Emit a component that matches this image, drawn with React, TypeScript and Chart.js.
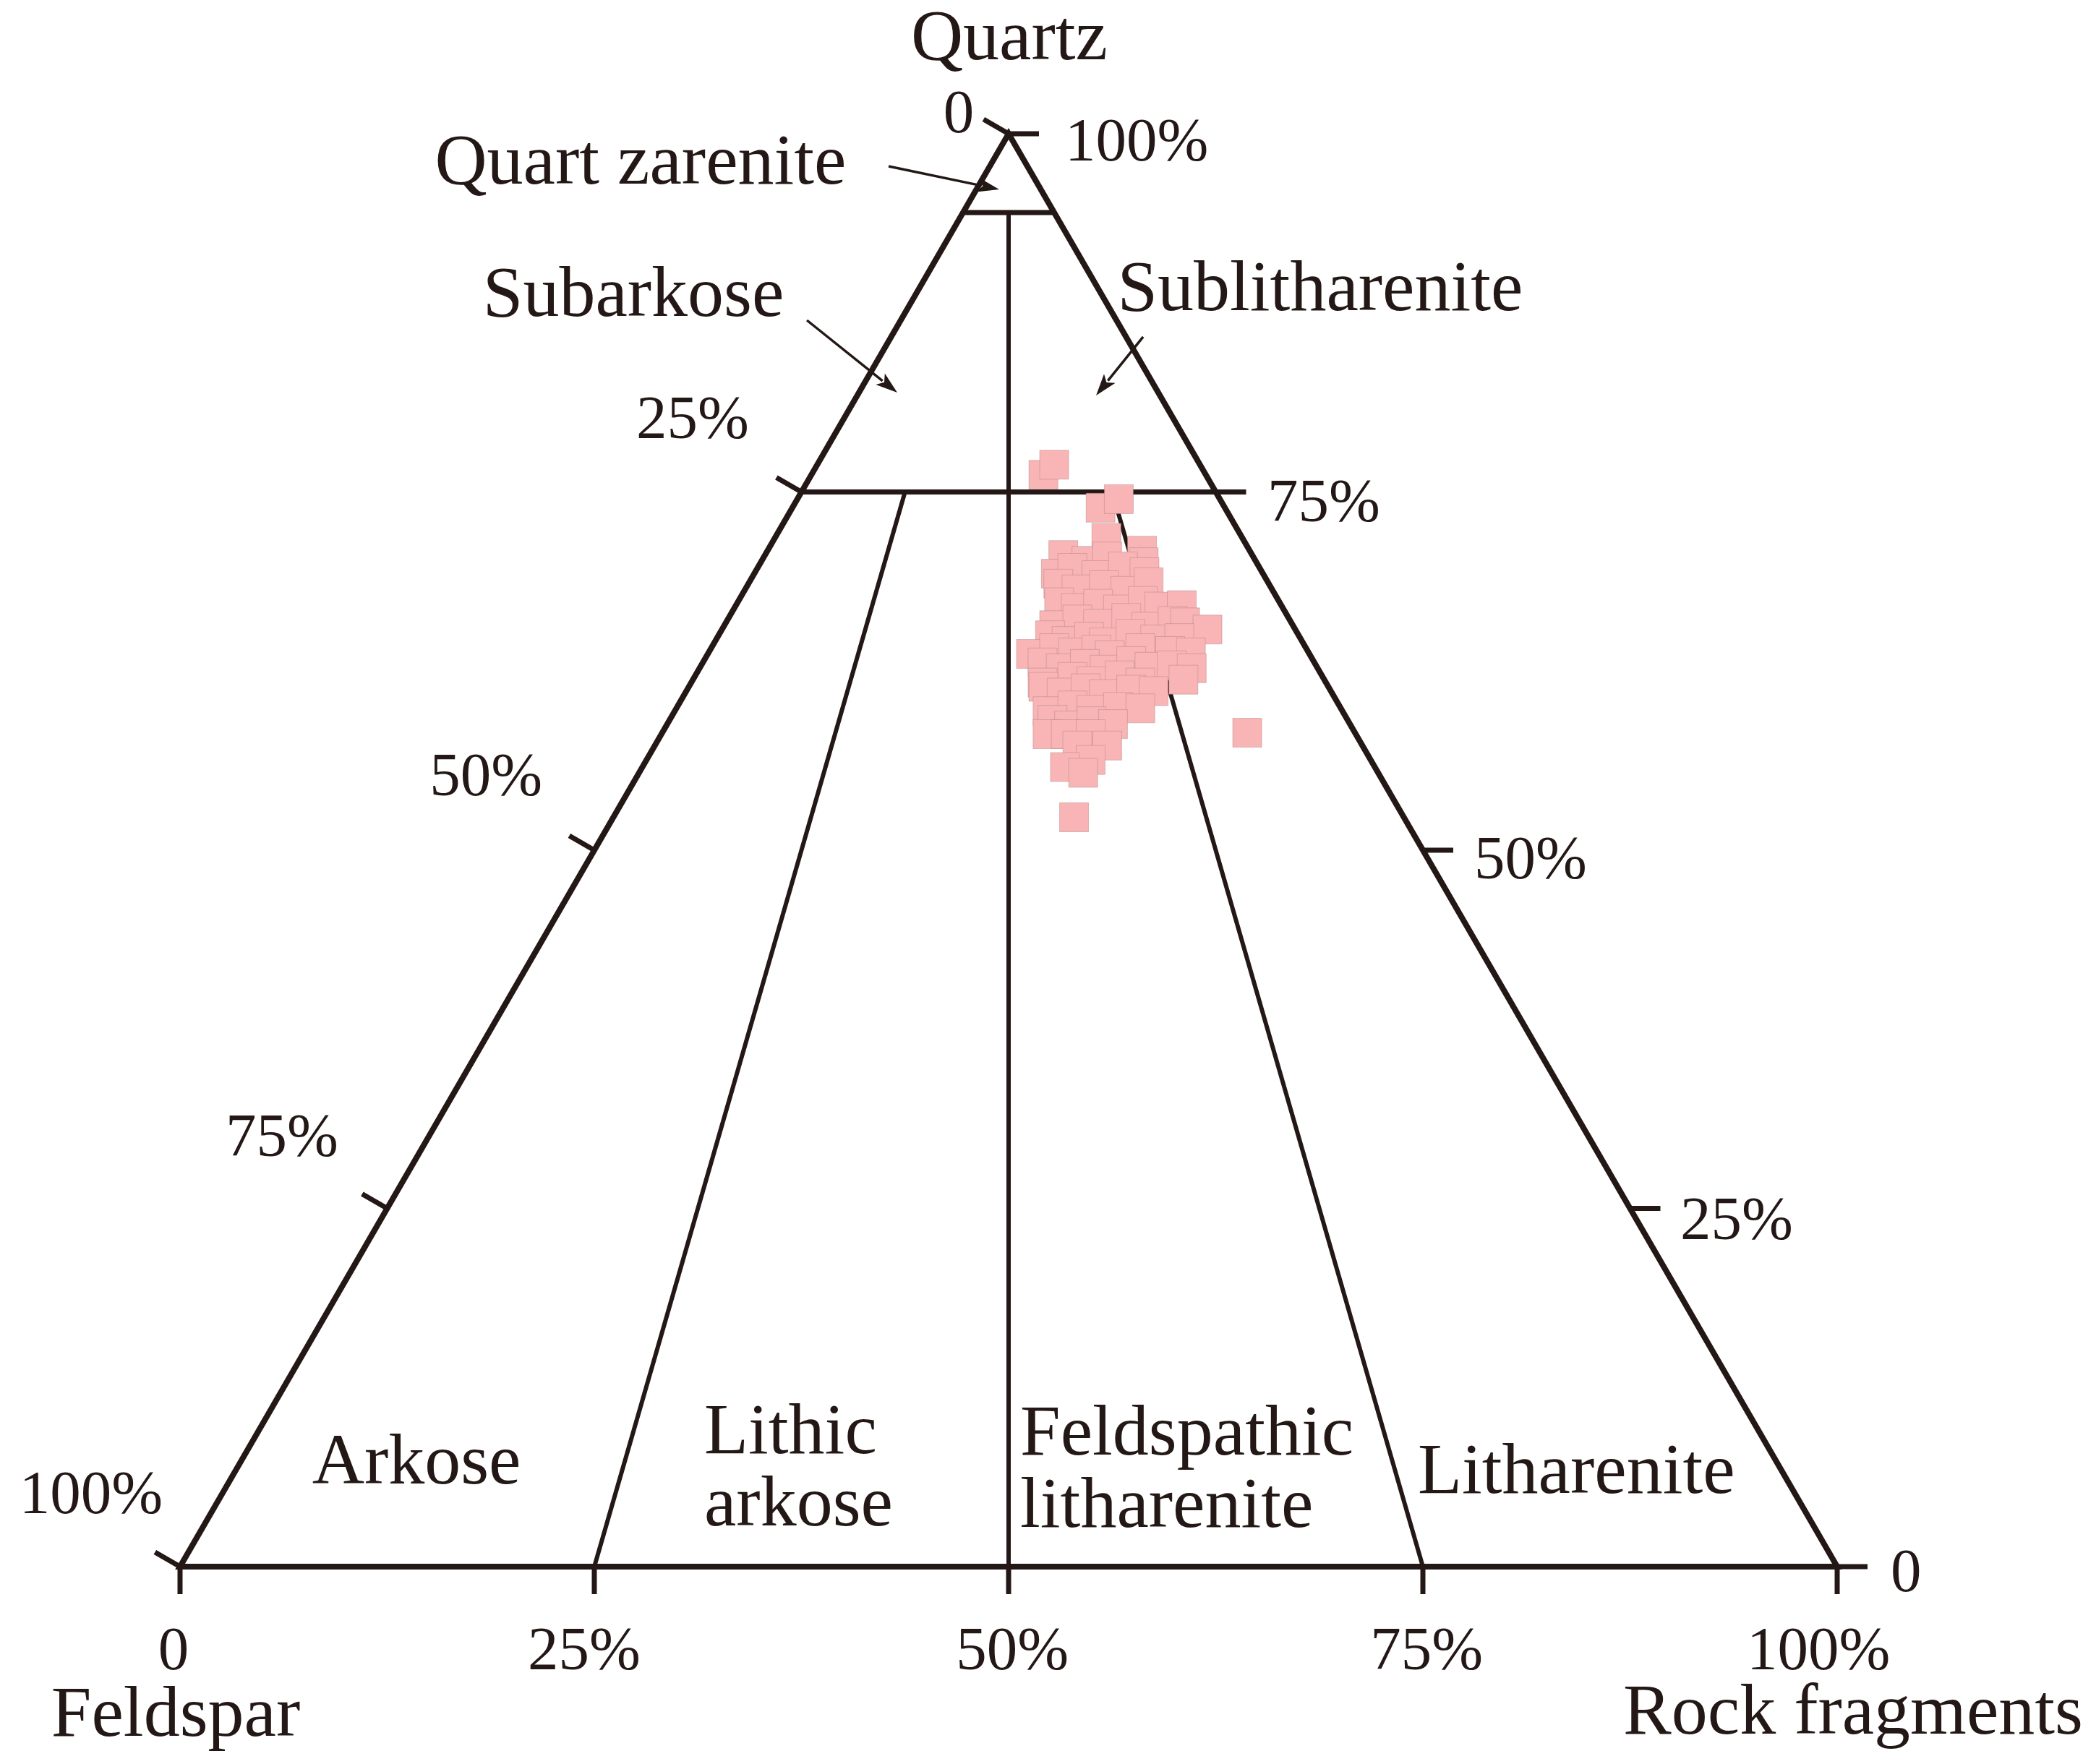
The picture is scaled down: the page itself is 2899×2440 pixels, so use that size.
import { useEffect, useRef } from 'react';
import { Chart, registerables } from 'chart.js';

Chart.register(...registerables);

// ---- Sample compositions (%) : Q = quartz, F = feldspar, R = rock fragments ----
const quartz = [
  76.2, 76.9, 73.9, 74.5, 71.8,
  70.6, 70.2, 70.5, 70.9, 70.1,
  69.3, 69.7, 69.2, 69.8, 69.4,
  68.6, 68.2, 68.5, 68.1, 68.7,
  67.3, 66.9, 67.2, 66.8, 67.4, 67.0, 67.1,
  65.7, 66.1, 65.8, 66.2, 65.6, 66.0, 65.9,
  65.4,
  65.0, 64.6, 64.9, 64.5, 65.1, 64.7, 64.8,
  63.7, 64.1, 63.8, 64.0, 63.6, 64.1, 63.9, 63.8,
  63.1, 62.7, 63.0, 62.6, 63.2, 62.8, 62.9, 62.7,
  61.7, 62.1, 61.8, 62.2, 61.7, 61.9,
  61.4, 61.0, 61.3, 60.9, 61.2, 61.1,
  59.7, 60.1, 59.8, 60.0, 59.9,
  59.1, 58.7, 59.0, 58.8,
  58.1, 58.1, 58.1,
  57.3, 57.3,
  56.3, 55.8, 55.4,
  52.3, 58.2,
];
const feldspar = [
  9.8, 8.8, 7.5, 6.1, 8.2,
  11.4, 10.2, 8.8, 6.5, 6.8,
  12.5, 11.3, 10.1, 8.2, 7.1,
  12.7, 11.8, 10.0, 8.9, 7.2,
  13.3, 12.5, 11.0, 10.0, 8.2, 7.4, 6.0,
  14.4, 12.8, 11.7, 9.8, 8.9, 7.1, 6.4,
  5.3,
  15.0, 14.2, 12.7, 12.0, 10.1, 8.8, 7.3,
  16.8, 15.2, 14.2, 12.7, 12.1, 10.0, 8.3, 7.1,
  16.4, 15.5, 13.9, 12.9, 11.0, 10.1, 8.7, 7.6,
  17.1, 15.1, 14.1, 12.2, 11.2, 8.5,
  17.2, 16.3, 14.7, 13.8, 12.0, 10.7,
  17.8, 16.1, 15.1, 13.4, 12.1,
  17.8, 17.0, 15.5, 14.3,
  18.6, 17.5, 16.0,
  17.2, 15.4,
  16.9, 18.7, 17.8,
  19.9, 6.5,
];
const rockFragments = [
  14.0, 14.3, 18.6, 19.4, 20.0,
  18.0, 19.6, 20.7, 22.6, 23.1,
  18.2, 19.0, 20.7, 22.0, 23.5,
  18.7, 20.0, 21.5, 23.0, 24.1,
  19.4, 20.6, 21.8, 23.2, 24.4, 25.6, 26.9,
  19.9, 21.1, 22.5, 24.0, 25.5, 26.9, 27.7,
  29.3,
  20.0, 21.2, 22.4, 23.5, 24.8, 26.5, 27.9,
  19.5, 20.7, 22.0, 23.3, 24.3, 25.9, 27.8, 29.1,
  20.5, 21.8, 23.1, 24.5, 25.8, 27.1, 28.4, 29.7,
  21.2, 22.8, 24.1, 25.6, 27.1, 29.6,
  21.4, 22.7, 24.0, 25.3, 26.8, 28.2,
  22.5, 23.8, 25.1, 26.6, 28.0,
  23.1, 24.3, 25.5, 26.9,
  23.3, 24.4, 25.9,
  25.5, 27.3,
  26.8, 25.5, 26.8,
  27.8, 35.3,
];

// ---- Tick values along the three sides ----
const sideTicks = [0, 25, 50, 75, 100];
const leftTickLabels = ['0', '25%', '50%', '75%', '100%'];
const rightTickLabels = ['100%', '75%', '50%', '25%', '0'];
const bottomTickLabels = ['0', '25%', '50%', '75%', '100%'];

// ---- Classification field boundaries, as [Q, F, R] end points ----
const frameLine = [[100, 0, 0], [0, 100, 0], [0, 0, 100], [100, 0, 0], [0, 100, 0]];
const quartzareniteLine = [[94.5, 5.5, 0], [94.5, 0, 5.5]];
const q75Line = [[75, 25, 0], [75, 0, 25]];
const centerLine = [[94.5, 2.75, 2.75], [0, 50, 50]];
const lithicArkoseLine = [[75, 18.75, 6.25], [0, 75, 25]];
const litharenitLine = [[75, 6.25, 18.75], [0, 25, 75]];

// ---- Text (chart units: x along base 0..100, y up, height 86.6) ----
const fieldLabels = ['Quartz', 'Quart zarenite', 'Subarkose', 'Sublitharenite', 'Arkose', 'Lithic', 'arkose', 'Feldspathic', 'litharenite', 'Litharenite', 'Feldspar', 'Rock fragments'];
const fieldLabelPos: [number, number, CanvasTextAlign][] = [
  [50.04, 91.1, 'center'], [27.79, 83.59, 'center'], [27.36, 75.59, 'center'], [68.8, 75.94, 'center'],
  [14.27, 5.02, 'center'], [31.63, 6.86, 'left'], [31.63, 2.49, 'left'], [50.7, 6.77, 'left'],
  [50.7, 2.4, 'left'], [74.69, 4.46, 'left'], [-0.26, -10.22, 'center'], [100.96, -10.09, 'center'],
];
const leftLabelPos = [[46.99, 86.69], [30.93, 68.21], [18.46, 46.62], [6.15, 24.82], [-5.37, 3.23]];
const rightLabelPos = [[53.4, 84.99], [65.62, 63.18], [78.1, 41.6], [90.53, 19.79], [103.23, -1.49]];
const bottomLabelPos = [[-0.39, -6.2], [24.39, -6.2], [50.22, -6.2], [75.22, -6.2], [98.87, -6.2]];

// arrows [fromX, fromY, toX, toY] in chart units
const arrows = [
  [42.76, 84.64, 49.43, 83.24],
  [37.83, 75.33, 43.28, 70.96],
  [58.12, 74.33, 55.28, 70.79],
];

const INK = '#231815';
const FONT = '"Liberation Serif", "Times New Roman", serif';
const H = Math.sqrt(3) / 2;

function tern(q: number, f: number, r: number) {
  const s = q + f + r;
  return { x: ((r + q / 2) / s) * 100, y: ((q * H) / s) * 100 };
}

function lineDataset(pts: number[][], width: number) {
  return {
    data: pts.map((p) => tern(p[0], p[1], p[2])),
    showLine: true,
    borderColor: INK,
    borderWidth: width,
    borderJoinStyle: 'miter' as const,
    pointRadius: 0,
    fill: false,
    tension: 0,
    order: 2,
    clip: false as const,
  };
}

const decorPlugin = {
  id: 'ternaryDecor',
  afterDatasetsDraw(chart: any) {
    const { ctx, scales } = chart;
    const xs = scales.x;
    const ys = scales.y;
    const px = (x: number) => xs.getPixelForValue(x);
    const py = (y: number) => ys.getPixelForValue(y);
    ctx.save();
    ctx.strokeStyle = INK;
    ctx.fillStyle = INK;
    ctx.lineCap = 'butt';

    // ticks
    ctx.lineWidth = 7;
    const tick = (p: { x: number; y: number }, dx: number, dy: number) => {
      const x0 = px(p.x);
      const y0 = py(p.y);
      ctx.beginPath();
      ctx.moveTo(x0, y0);
      ctx.lineTo(x0 + dx, y0 + dy);
      ctx.stroke();
    };
    sideTicks.forEach((v) => {
      tick(tern(100 - v, v, 0), -40 * 0.866, -40 * 0.5);
      tick(tern(100 - v, 0, v), 42, 0);
      tick(tern(0, 100 - v, v), 0, 38);
    });

    // arrows
    ctx.lineWidth = 3.5;
    arrows.forEach(([x1, y1, x2, y2]) => {
      const ax = px(x1), ay = py(y1), bx = px(x2), by = py(y2);
      const ang = Math.atan2(by - ay, bx - ax);
      const hl = 30, hw = 10;
      const baseX = bx - hl * Math.cos(ang);
      const baseY = by - hl * Math.sin(ang);
      ctx.beginPath();
      ctx.moveTo(ax, ay);
      ctx.lineTo(baseX + 4 * Math.cos(ang), baseY + 4 * Math.sin(ang));
      ctx.stroke();
      ctx.beginPath();
      ctx.moveTo(bx, by);
      ctx.lineTo(baseX + hw * Math.sin(ang), baseY - hw * Math.cos(ang));
      ctx.lineTo(baseX + 7 * Math.cos(ang), baseY + 7 * Math.sin(ang));
      ctx.lineTo(baseX - hw * Math.sin(ang), baseY + hw * Math.cos(ang));
      ctx.closePath();
      ctx.fill();
    });

    // text
    ctx.textBaseline = 'alphabetic';
    ctx.font = `100px ${FONT}`;
    fieldLabels.forEach((t, i) => {
      const [x, y, a] = fieldLabelPos[i];
      ctx.textAlign = a;
      ctx.fillText(t, px(x), py(y));
    });
    ctx.font = `85px ${FONT}`;
    ctx.textAlign = 'center';
    leftTickLabels.forEach((t, i) => ctx.fillText(t, px(leftLabelPos[i][0]), py(leftLabelPos[i][1])));
    bottomTickLabels.forEach((t, i) => ctx.fillText(t, px(bottomLabelPos[i][0]), py(bottomLabelPos[i][1])));
    ctx.textAlign = 'left';
    rightTickLabels.forEach((t, i) => ctx.fillText(t, px(rightLabelPos[i][0]), py(rightLabelPos[i][1])));
    ctx.restore();
  },
};

export default function App() {
  const ref = useRef<HTMLCanvasElement>(null);
  useEffect(() => {
    if (!ref.current) return;
    const samples = quartz.map((q, i) => tern(q, feldspar[i], rockFragments[i]));
    const chart = new Chart(ref.current, {
      type: 'scatter',
      data: {
        datasets: [
          {
            data: samples,
            pointStyle: 'rect',
            pointRadius: 28.3,
            backgroundColor: '#F9B5B5',
            borderColor: 'rgba(160,120,120,0.4)',
            borderWidth: 1,
            order: 0,
            clip: false,
          } as any,
          lineDataset(frameLine, 8),
          lineDataset(quartzareniteLine, 7),
          lineDataset(q75Line, 7),
          lineDataset(centerLine, 6),
          lineDataset(lithicArkoseLine, 6),
          lineDataset(litharenitLine, 6),
        ],
      },
      options: {
        animation: false,
        responsive: false,
        devicePixelRatio: 1,
        events: [],
        layout: { padding: 0, autoPadding: false },
        plugins: { legend: { display: false }, tooltip: { enabled: false } },
        scales: {
          x: { type: 'linear', display: false, min: -10.864, max: 115.619 },
          y: { type: 'linear', display: false, min: -11.929, max: 94.687 },
        },
      },
      plugins: [decorPlugin],
    });
    return () => chart.destroy();
  }, []);
  return (
    <div style={{ position: 'absolute', left: 0, top: 0, width: 2899, height: 2440, background: '#fff' }}>
      <canvas ref={ref} width={2899} height={2440} style={{ display: 'block' }} />
    </div>
  );
}
